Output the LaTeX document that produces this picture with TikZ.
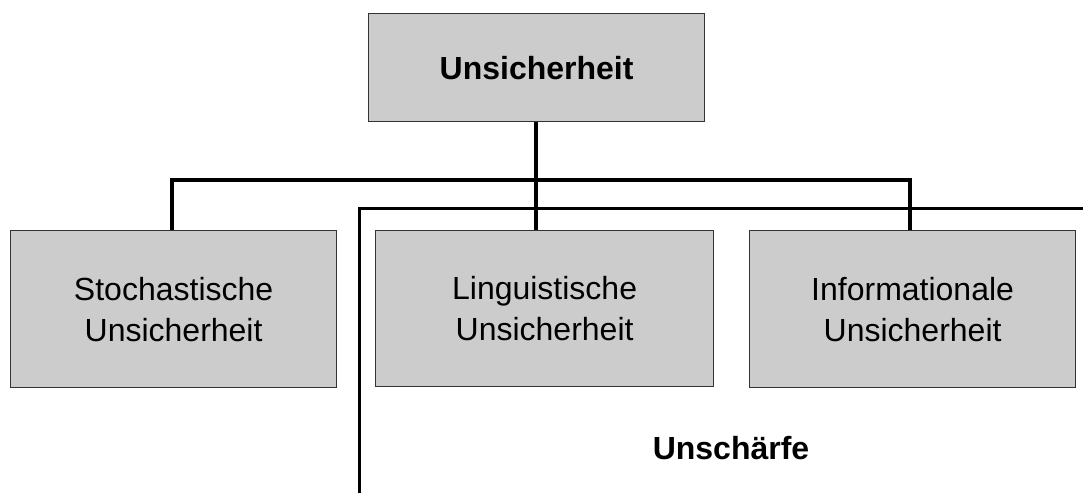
\documentclass[tikz,border=0pt]{standalone}
\usepackage{fontspec}
\setmainfont{Liberation Sans}
\begin{document}
\begin{tikzpicture}[x=1pt,y=-1pt,
  box/.style={draw=black!80,line width=1.2pt,fill=black!20,anchor=north west,inner sep=0pt},
  lbl/.style={font=\fontsize{32}{41}\selectfont,align=center},
  tree/.style={line width=4pt,line cap=butt},
  fuzzy/.style={line width=3pt}]
\useasboundingbox (0,0) rectangle (1083,493);
\node[box,minimum width=336pt,minimum height=108pt] (top) at (368,13) {};
\node[lbl,font=\fontsize{32}{41}\bfseries] at (top.center) {Unsicherheit};
\node[box,minimum width=326pt,minimum height=157pt] (sto) at (10,230) {};
\node[box,minimum width=338pt,minimum height=156pt] (lin) at (375,230) {};
\node[box,minimum width=326pt,minimum height=157pt] (inf) at (749,230) {};
\node[lbl] at (sto.center) {Stochastische\\Unsicherheit};
\node[lbl] at (lin.center) {Linguistische\\Unsicherheit};
\node[lbl] at (inf.center) {Informationale\\Unsicherheit};
\coordinate (bar) at (536,180);
\draw[tree] (top.south -| bar) -- (lin.north -| bar);
\draw[tree] (sto.north -| 172,0) -- (172,180) -- (910,180) -- (inf.north -| 910,0);
\coordinate (fa) at (359,493);
\coordinate (fb) at (1083,208);
\draw[fuzzy] (fa) -- (fa |- fb) -- (fb);
\node[font=\fontsize{32}{41}\bfseries\selectfont,anchor=base] (un) at (731,459) {Unschärfe};
\end{tikzpicture}
\end{document}
